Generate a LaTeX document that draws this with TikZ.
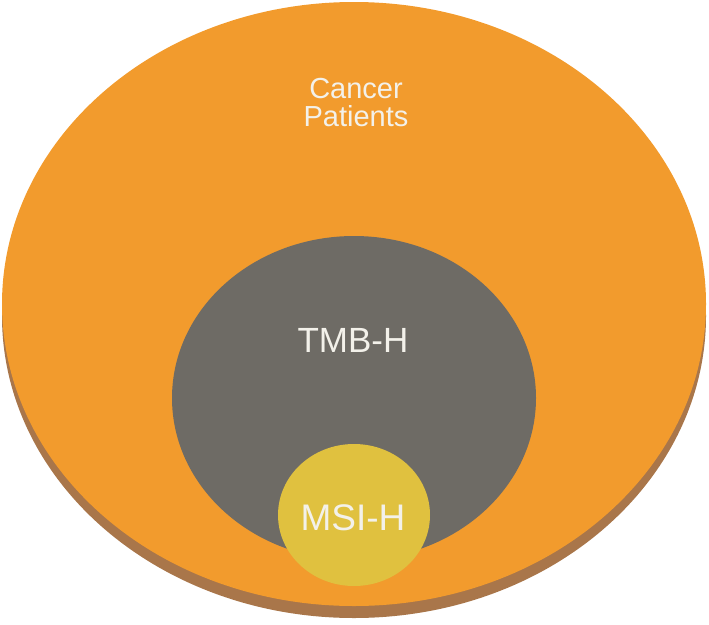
\documentclass[tikz,border=0pt]{standalone}
\usepackage{fontspec}
\setmainfont{Liberation Sans}
\definecolor{patorange}{HTML}{F29B2D}
\definecolor{rimbrown}{HTML}{A9764A}
\definecolor{tmbgray}{HTML}{6E6B65}
\definecolor{msiyellow}{HTML}{E0C13F}
\definecolor{labelwhite}{HTML}{F3F1EA}
\tikzset{
  setlabel/.style={text=labelwhite, align=center, inner sep=0pt}
}
\begin{document}
\begin{tikzpicture}[x=1pt, y=-1pt]
  \useasboundingbox (0,0) rectangle (709,624);
  \coordinate (R) at (354,316);
  \coordinate (C) at (354,304);
  \coordinate (T) at (354,398);
  \coordinate (M) at (354,515);
  % sets, largest first
  \fill[rimbrown] (R) ellipse [x radius=352pt, y radius=302pt];
  \fill[patorange] (C) ellipse [x radius=352pt, y radius=302pt];
  \fill[tmbgray] (T) ellipse [x radius=182pt, y radius=162pt];
  \fill[msiyellow] (M) ellipse [x radius=76pt, y radius=71pt];
  % labels
  \node[setlabel, font=\fontsize{29}{28}\selectfont] (cancer) at (356,103) {Cancer\\Patients};
  \node[setlabel, font=\fontsize{35}{40}\selectfont] (tmb) at (353,340) {TMB-H};
  \node[setlabel, font=\fontsize{37}{42}\selectfont] (msi) at (353,518) {MSI-H};
\end{tikzpicture}
\end{document}
